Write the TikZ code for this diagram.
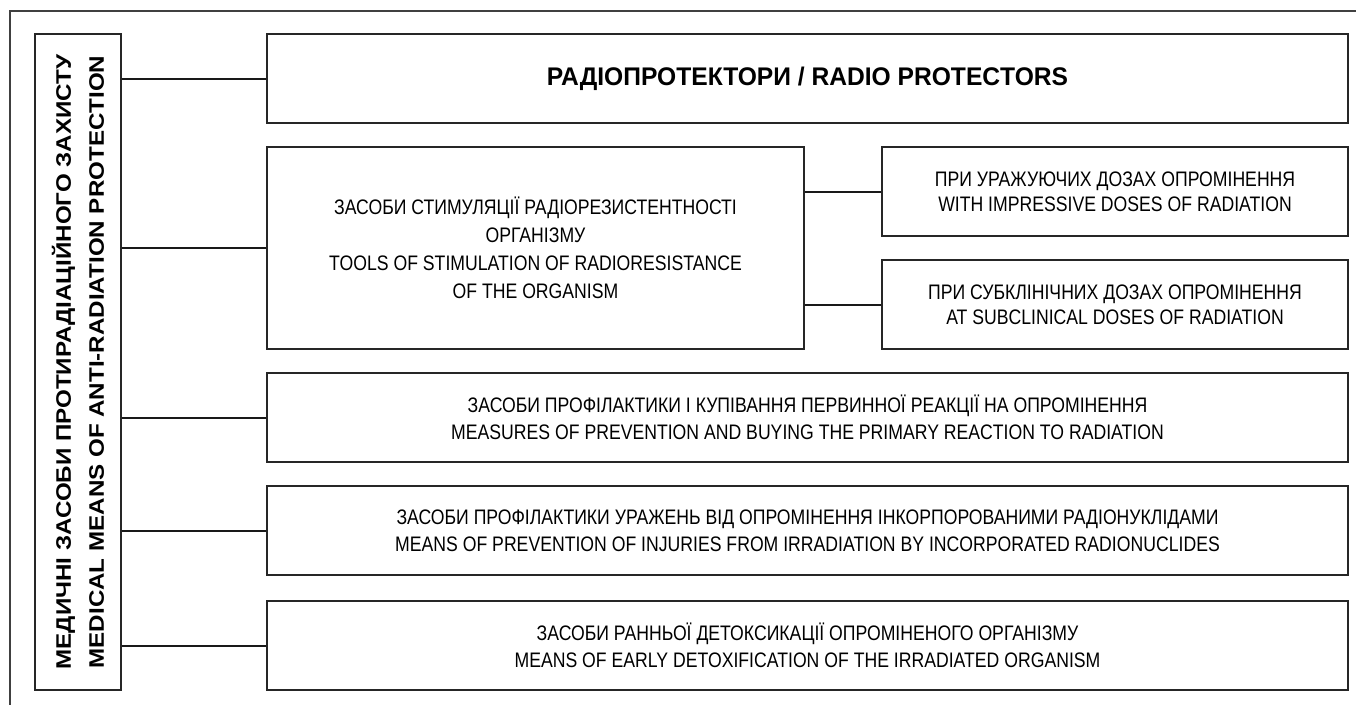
\documentclass[tikz,border=0pt]{standalone}
\usepackage{fontspec}
\setmainfont{Liberation Sans}
\newfontfamily\bodyfont{Liberation Sans}[FakeStretch=0.84]
\newfontfamily\headfont{Liberation Sans}[FakeStretch=0.965]
\newfontfamily\sidefont{Liberation Sans}[FakeStretch=1.15]
\usetikzlibrary{positioning}

\tikzset{
  box/.style={draw=black!85, line width=1.5pt, align=center, inner sep=0pt,
    minimum height=89pt, font=\bodyfont\fontsize{21}{27}\selectfont},
  link/.style={draw=black!90, line width=2pt},
  frame/.style={draw=black!75, line width=1.5pt}
}

\begin{document}
\begin{tikzpicture}[x=1pt, y=-1pt]
      \useasboundingbox (0,0) rectangle (1356,705);
      % frame %
      \draw[frame] (1356,11) -- (10,11) -- (10,705);

      % nodes %
      \node[box, rotate=90, minimum width=656pt, minimum height=86pt,
        font=\sidefont\bfseries\fontsize{21}{33}\selectfont] (main) at (78,362)
        {МЕДИЧНІ ЗАСОБИ ПРОТИРАДІАЦІЙНОГО ЗАХИСТУ\\MEDICAL MEANS OF ANTI-RADIATION PROTECTION};
      \node[box, minimum width=1081pt, font=\headfont\bfseries\fontsize{25.5}{30}\selectfont] (radio) at (807.5,78.5)
        {РАДІОПРОТЕКТОРИ / RADIO PROTECTORS};
      \node[box, minimum width=537pt, minimum height=202pt, font=\bodyfont\fontsize{21}{28}\selectfont] (stim) at (535.5,248)
        {ЗАСОБИ СТИМУЛЯЦІЇ РАДІОРЕЗИСТЕНТНОСТІ\\ОРГАНІЗМУ\\TOOLS OF STIMULATION OF RADIORESISTANCE\\OF THE ORGANISM};
      \node[box, minimum width=466pt, font=\bodyfont\fontsize{21}{25}\selectfont] (dosea) at (1115,191.5)
        {ПРИ УРАЖУЮЧИХ ДОЗАХ ОПРОМІНЕННЯ\\WITH IMPRESSIVE DOSES OF RADIATION};
      \node[box, below of=dosea, node distance=113pt, minimum width=466pt, font=\bodyfont\fontsize{21}{25}\selectfont] (doseb)
        {ПРИ СУБКЛІНІЧНИХ ДОЗАХ ОПРОМІНЕННЯ\\AT SUBCLINICAL DOSES OF RADIATION};
      \node[box, minimum width=1081pt] (prim) at (807.5,417.5)
        {ЗАСОБИ ПРОФІЛАКТИКИ І КУПІВАННЯ ПЕРВИННОЇ РЕАКЦІЇ НА ОПРОМІНЕННЯ\\MEASURES OF PREVENTION AND BUYING THE PRIMARY REACTION TO RADIATION};
      \node[box, below of=prim, node distance=113pt, minimum width=1081pt] (incorp)
        {ЗАСОБИ ПРОФІЛАКТИКИ УРАЖЕНЬ ВІД ОПРОМІНЕННЯ ІНКОРПОРОВАНИМИ РАДІОНУКЛІДАМИ\\MEANS OF PREVENTION OF INJURIES FROM IRRADIATION BY INCORPORATED RADIONUCLIDES};
      \node[box, below of=incorp, node distance=115pt, minimum width=1081pt] (detox)
        {ЗАСОБИ РАННЬОЇ ДЕТОКСИКАЦІЇ ОПРОМІНЕНОГО ОРГАНІЗМУ\\MEANS OF EARLY DETOXIFICATION OF THE IRRADIATED ORGANISM};

      % edges %
      \foreach \b in {radio, stim, prim, incorp, detox}
        \draw[link] (main.south |- \b.west) -- (\b.west);
      \draw[link] (stim.east |- dosea.west) -- (dosea.west);
      \draw[link] (stim.east |- doseb.west) -- (doseb.west);
\end{tikzpicture}
\end{document}
